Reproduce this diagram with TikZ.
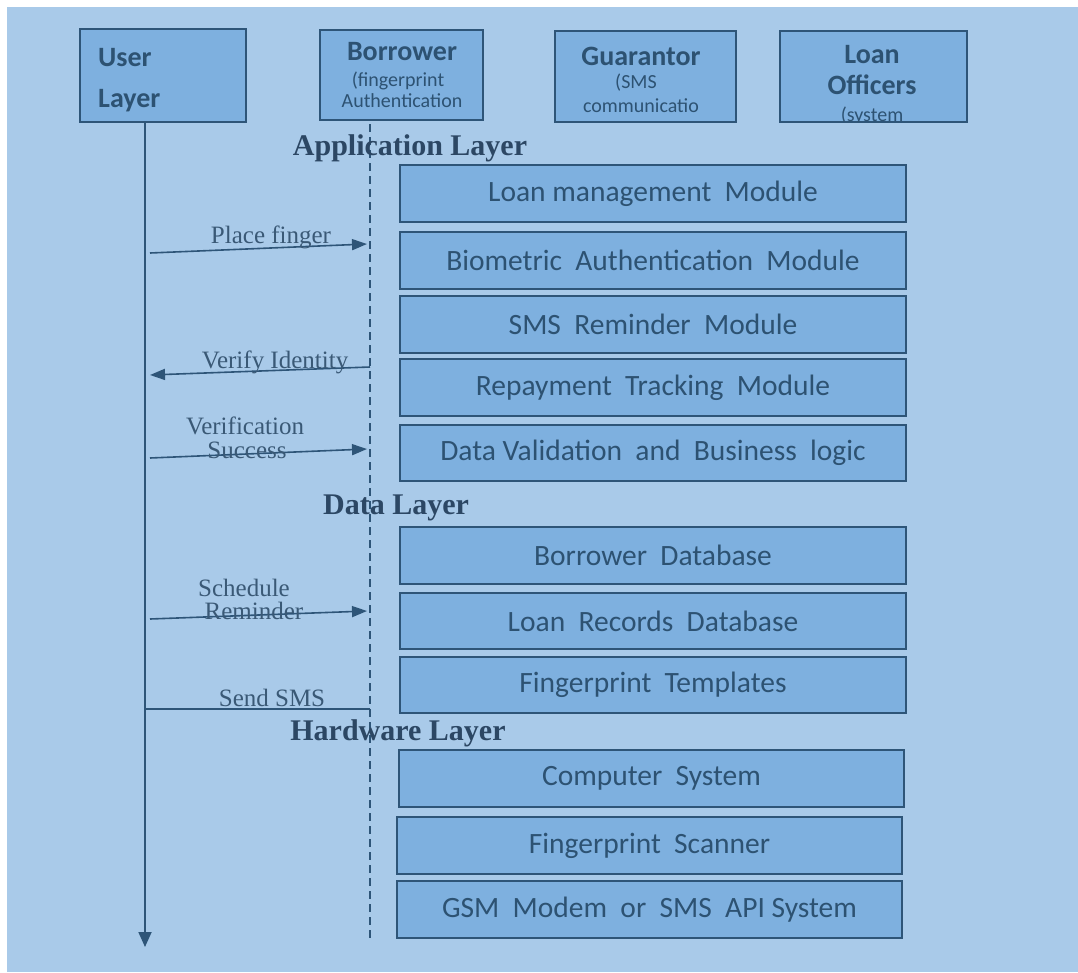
\documentclass[tikz,border=0pt]{standalone}
\usepackage{fontspec}
\setmainfont{Liberation Serif}
\newfontfamily\calfont{Carlito}
\usetikzlibrary{arrows.meta}

\definecolor{bgblue}{HTML}{A9CAE9}
\definecolor{boxblue}{HTML}{7EB0DF}
\definecolor{edge}{HTML}{2E5578}
\definecolor{ink}{HTML}{2D5272}
\definecolor{titleink}{HTML}{2C4764}
\definecolor{msgink}{HTML}{3A5976}

\newcommand\wgap{\hspace{0.45em}}

\tikzset{
  modbox/.style={draw=edge, line width=1.8pt, fill=boxblue, text=ink, inner sep=0pt,
    minimum width=506pt, minimum height=57pt,
    font=\calfont\fontsize{29.5}{31}\selectfont},
  headbox/.style={draw=edge, line width=1.8pt, fill=boxblue, inner sep=0pt},
  headbig/.style={text=ink, inner sep=0pt, font=\calfont\bfseries\fontsize{28}{30}\selectfont},
  headsmall/.style={text=ink, inner sep=0pt, font=\calfont\fontsize{20}{22}\selectfont},
  layertitle/.style={text=titleink, inner sep=0pt, font=\bfseries\fontsize{30}{32}\selectfont},
  msglabel/.style={text=msgink, inner sep=0pt, font=\fontsize{25}{27}\selectfont},
  msgline/.style={draw=edge, line width=1.6pt},
  msgarrow/.style={msgline, -{Triangle[width=11pt,length=15pt]}},
  lifeline/.style={draw=edge, line width=1.8pt, -{Triangle[width=13pt,length=15pt]}},
  dashline/.style={draw=edge, line width=1.4pt, dash pattern=on 8pt off 5pt}
}

\begin{document}
\begin{tikzpicture}[x=1pt, y=-1pt]
  \useasboundingbox (0,0) rectangle (1078,972);
  \fill[white] (0,0) rectangle (1078,972);
  \fill[bgblue] (7,7) rectangle (1078,972);

  % participants
  \node[headbox, minimum width=166pt, minimum height=93pt] (user) at (163,75.5) {};
  \node[headbig, anchor=west] (userA) at (98,58) {User};
  \node[headbig, anchor=west] (userB) at (98,101) {Layer};

  \node[headbox, minimum width=163pt, minimum height=90pt] (borrower) at (401.5,75) {};
  \node[headbig] (borA) at (402,52) {Borrower};
  \node[headsmall] (borB) at (398,81) {(fingerprint};
  \node[headsmall] (borC) at (402,101) {Authentication};

  \node[headbox, minimum width=181pt, minimum height=91pt] (guarantor) at (645.5,76.5) {};
  \node[headbig] (guaA) at (641,56) {Guarantor};
  \node[headsmall] (guaB) at (636,83) {(SMS};
  \node[headsmall] (guaC) at (641,106) {communicatio};

  \node[headbox, minimum width=187pt, minimum height=91pt] (officers) at (873.5,76.5) {};
  \node[headbig] (offA) at (872,55) {Loan};
  \node[headbig] (offB) at (872,85) {Officers};
  % the third line runs past the box and is cut off by its lower edge
  \begin{scope}
    \clip ([shift={(1pt,-1pt)}]officers.north west) rectangle ([shift={(-1pt,1pt)}]officers.south east);
    \node[headsmall] (offC) at (872,116) {(system};
  \end{scope}

  % lifelines
  \coordinate (lifeTop) at (145,122);
  \coordinate (lifeEnd) at (145,947);
  \draw[lifeline] (lifeTop) -- (lifeEnd);
  \coordinate (dashTop) at (370,124);
  \coordinate (dashEnd) at (370,940);
  \draw[dashline] (dashTop) -- (dashEnd);

  % application layer
  \node[layertitle] (appT) at (410,148) {Application Layer};
  \node[modbox] (app1) at (653,193.5) {Loan management\wgap Module};
  \node[modbox] (app2) at (653,260.5) {Biometric\wgap Authentication\wgap Module};
  \node[modbox] (app3) at (653,324.5) {SMS\wgap Reminder\wgap Module};
  \node[modbox] (app4) at (653,387.5) {Repayment\wgap Tracking\wgap Module};
  \node[modbox, minimum height=56pt] (app5) at (653,453) {Data Validation\wgap and\wgap Business\wgap logic};

  % data layer
  \node[layertitle] (dataT) at (396,508) {Data Layer};
  \node[modbox] (data1) at (653,555.5) {Borrower\wgap Database};
  \node[modbox, minimum height=56pt] (data2) at (653,621) {Loan\wgap Records\wgap Database};
  \node[modbox, minimum height=56pt] (data3) at (653,685) {Fingerprint\wgap Templates};

  % hardware layer
  \node[layertitle] (hwT) at (398,733) {Hardware Layer};
  \node[modbox, minimum width=505pt] (hw1) at (651.5,778.5) {Computer\wgap System};
  \node[modbox, minimum width=505pt] (hw2) at (649.5,845.5) {Fingerprint\wgap Scanner};
  \node[modbox, minimum width=505pt] (hw3) at (649.5,909.5) {GSM\wgap Modem\wgap or\wgap SMS\wgap API System};

  % messages
  \coordinate (m1s) at (150,253); \coordinate (m1e) at (367,244);
  \draw[msgarrow] (m1s) -- (m1e);
  \node[msglabel] (m1t) at (271,237) {Place finger};

  \coordinate (m2s) at (370,367); \coordinate (m2e) at (150,375);
  \draw[msgarrow] (m2s) -- (m2e);
  \node[msglabel] (m2t) at (275,362) {Verify Identity};

  \coordinate (m3s) at (150,458); \coordinate (m3e) at (367,449);
  \draw[msgarrow] (m3s) -- (m3e);
  \node[msglabel] (m3t) at (245,426) {Verification};
  \node[msglabel] (m3u) at (247,450) {Success};

  \coordinate (m4s) at (150,619); \coordinate (m4e) at (367,611);
  \draw[msgarrow] (m4s) -- (m4e);
  \node[msglabel] (m4t) at (244,588) {Schedule};
  \node[msglabel] (m4u) at (254,611) {Reminder};

  \coordinate (m5s) at (145,709); \coordinate (m5e) at (370,709);
  \draw[msgline] (m5s) -- (m5e);
  \node[msglabel] (m5t) at (272,698) {Send SMS};
\end{tikzpicture}
\end{document}
